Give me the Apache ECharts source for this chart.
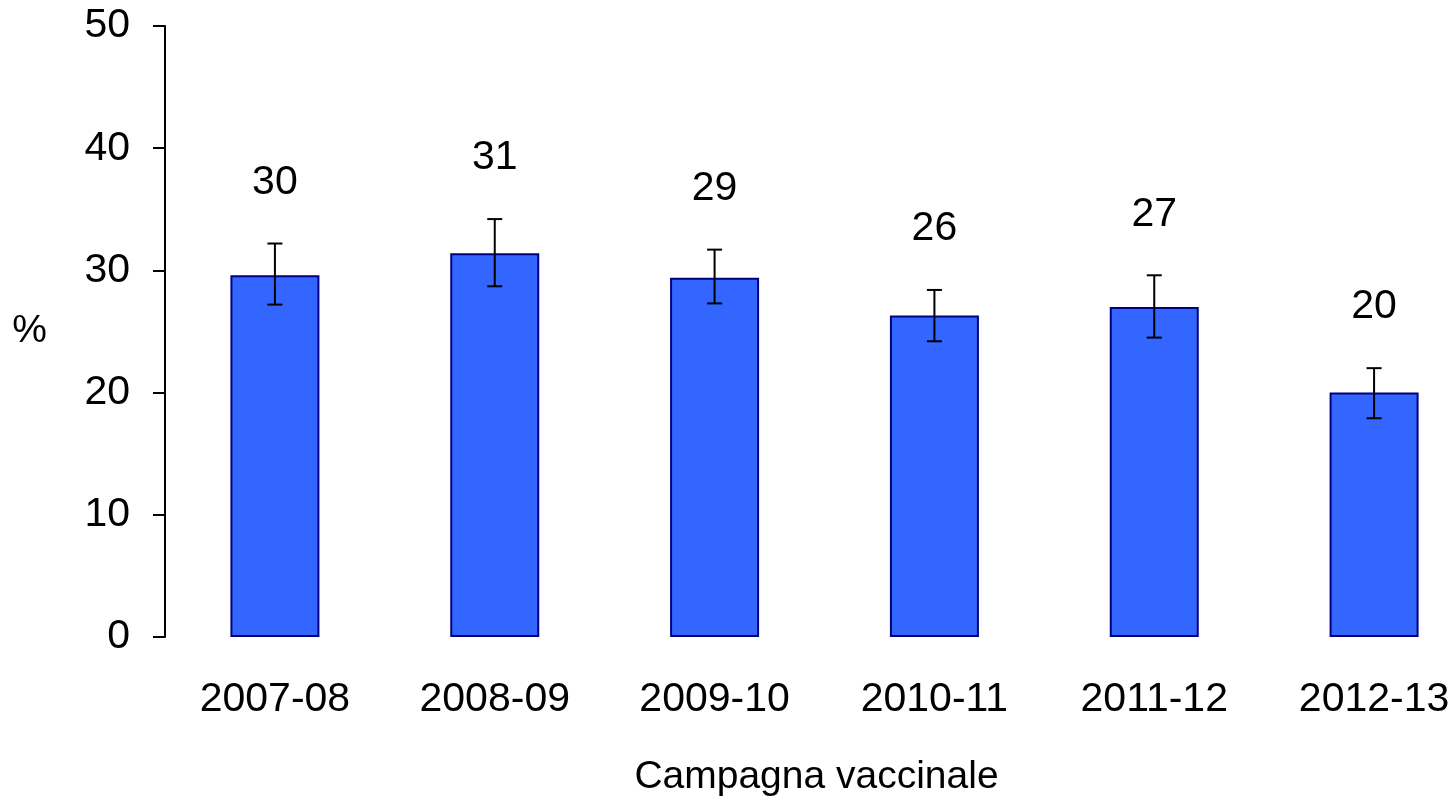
<!DOCTYPE html>
<html>
<head>
<meta charset="utf-8">
<script src="https://cdn.jsdelivr.net/npm/echarts@6/dist/echarts.min.js"></script>
<style>
html,body{margin:0;padding:0;background:#fff;overflow:hidden;width:1456px;height:802px;}
#chart{width:1484px;height:802px;}
</style>
</head>
<body>
<div id="chart"></div>
<script>
const categories = ['2007-08', '2008-09', '2009-10', '2010-11', '2011-12', '2012-13'];
const values = [29.6, 31.4, 29.4, 26.3, 27.0, 20.0];
const lowerCI = [27.2, 28.7, 27.3, 24.2, 24.5, 17.9];
const upperCI = [32.2, 34.2, 31.7, 28.4, 29.6, 22.0];
const valueLabels = ['30', '31', '29', '26', '27', '20'];
const yTicks = [0, 10, 20, 30, 40, 50];

const FONT = '"Liberation Sans", Arial, sans-serif';

const errData = categories.map((c, i) => [i, lowerCI[i], upperCI[i], valueLabels[i]]);

const chart = echarts.init(document.getElementById('chart'));
chart.setOption({
  animation: false,
  backgroundColor: '#ffffff',
  grid: { left: 165, top: 26, right: 0, bottom: 165, containLabel: false },
  xAxis: {
    type: 'category',
    data: categories,
    axisLine: { show: false },
    axisTick: { show: false },
    axisLabel: { color: '#000', fontFamily: FONT, fontSize: 41, margin: 42 },
    name: 'Campagna vaccinale',
    nameLocation: 'middle',
    nameGap: 121,
    nameTextStyle: { color: '#000', fontFamily: FONT, fontSize: 39, padding: [0, 16, 0, 0] }
  },
  yAxis: {
    type: 'value',
    min: yTicks[0],
    max: yTicks[yTicks.length - 1],
    interval: 10,
    axisLine: { show: true, lineStyle: { color: '#000', width: 2 } },
    axisTick: { show: true, length: 12, lineStyle: { color: '#000', width: 2 } },
    splitLine: { show: false },
    axisLabel: { color: '#000', fontFamily: FONT, fontSize: 41, margin: 35 },
    name: '%',
    nameLocation: 'middle',
    nameRotate: 0,
    nameGap: 118,
    nameTextStyle: { color: '#000', fontFamily: FONT, fontSize: 39 }
  },
  series: [
    {
      type: 'bar',
      data: values,
      barWidth: 89,
      itemStyle: { color: '#3366FF', borderColor: '#000080', borderWidth: 2 }
    },
    {
      type: 'custom',
      data: errData,
      z: 10,
      renderItem: function (params, api) {
        const x = api.value(0);
        const lo = api.coord([x, api.value(1)]);
        const hi = api.coord([x, api.value(2)]);
        const half = 7.5;
        const style = { stroke: '#000', lineWidth: 2 };
        return {
          type: 'group',
          children: [
            { type: 'line', shape: { x1: hi[0], y1: hi[1], x2: lo[0], y2: lo[1] }, style: style },
            { type: 'line', shape: { x1: hi[0] - half, y1: hi[1], x2: hi[0] + half, y2: hi[1] }, style: style },
            { type: 'line', shape: { x1: lo[0] - half, y1: lo[1], x2: lo[0] + half, y2: lo[1] }, style: style },
            {
              type: 'text',
              style: {
                x: hi[0], y: hi[1] - 61,
                text: api.value(3) + '',
                fill: '#000',
                font: '41px ' + FONT,
                textAlign: 'center',
                textVerticalAlign: 'middle'
              }
            }
          ]
        };
      }
    }
  ]
});
</script>
</body>
</html>
